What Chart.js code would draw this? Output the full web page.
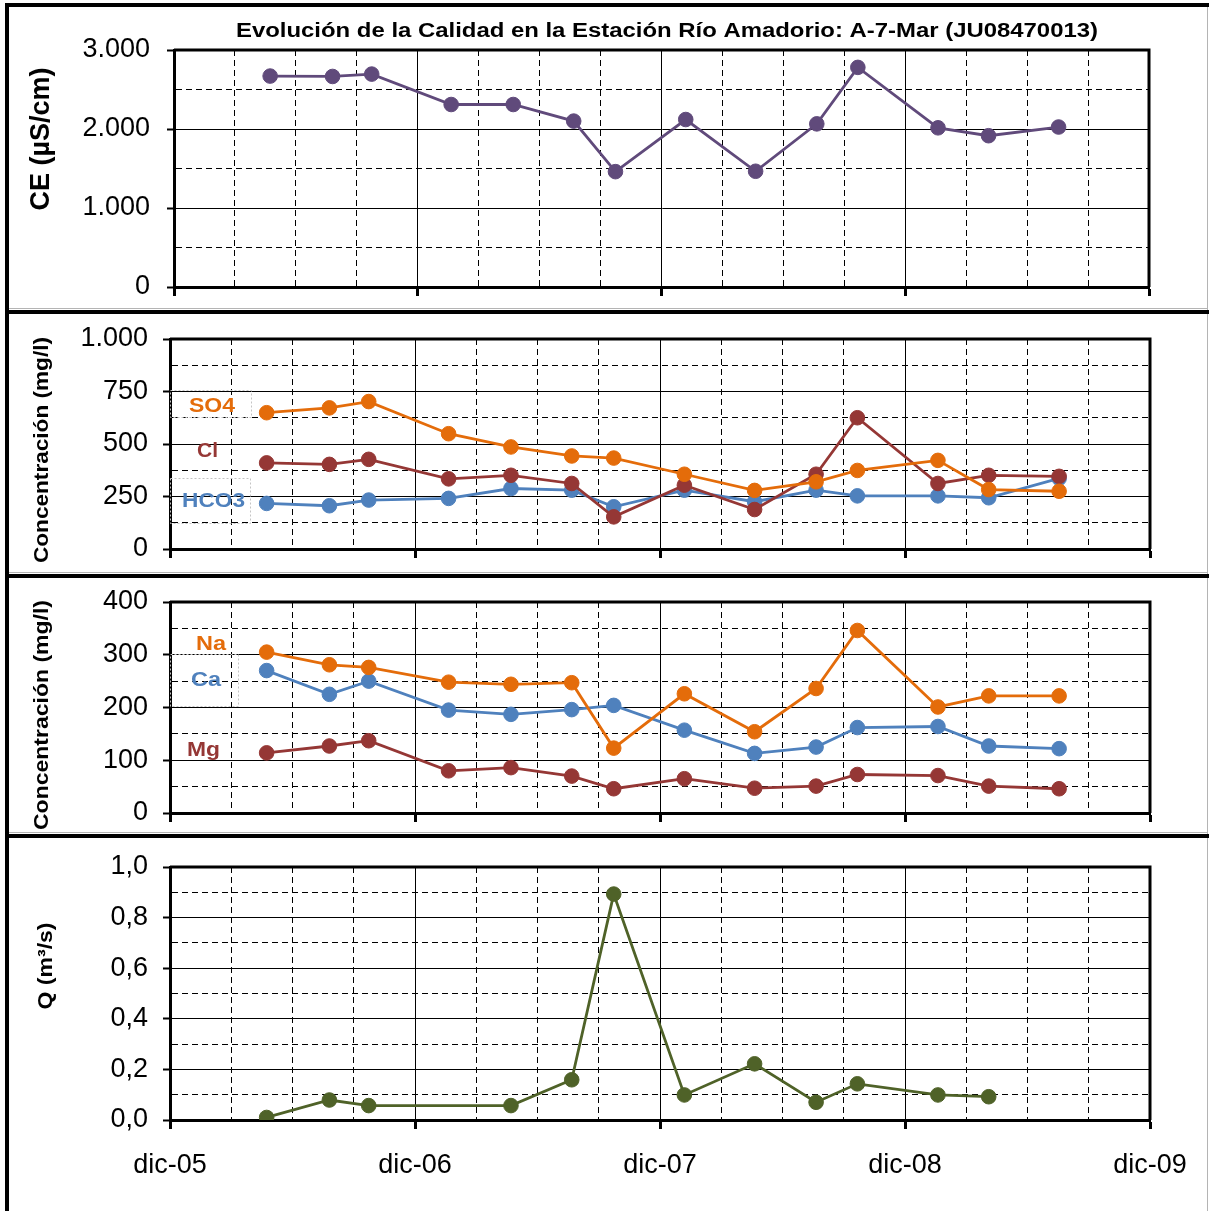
<!DOCTYPE html>
<html>
<head>
<meta charset="utf-8">
<script src="https://cdn.jsdelivr.net/npm/chart.js@4.4.1/dist/chart.umd.min.js"></script>
<style>
  body { margin: 0; background: #fff; }
  #page { position: relative; width: 1211px; height: 1211px; overflow: hidden; background: #fff; }
  #page canvas { position: absolute; left: 0; }
  .bar { position: absolute; background: #000; }
  .thin { position: absolute; background: #b4b4b4; }
</style>
</head>
<body>
<div id="page">
  <canvas id="ce" width="1211" height="311" style="top:0px"></canvas>
  <canvas id="anions" width="1211" height="264" style="top:311px"></canvas>
  <canvas id="cations" width="1211" height="260" style="top:575px"></canvas>
  <canvas id="flow" width="1211" height="376" style="top:835px"></canvas>

  <div class="thin" style="left:9px;top:308px;width:1199px;height:1px"></div>
  <div class="thin" style="left:9px;top:572px;width:1199px;height:1px"></div>
  <div class="thin" style="left:9px;top:832px;width:1199px;height:1px"></div>
  <div class="thin" style="left:1207px;top:3px;width:1px;height:1208px"></div>
  <div class="bar" style="left:5px;top:3px;width:4px;height:1208px"></div>
  <div class="bar" style="left:5px;top:3px;width:1204px;height:4px"></div>
  <div class="bar" style="left:5px;top:310px;width:1204px;height:4px"></div>
  <div class="bar" style="left:5px;top:574px;width:1204px;height:4px"></div>
  <div class="bar" style="left:5px;top:834px;width:1204px;height:4px"></div>
</div>
<script>
// fechas de muestreo (comunes a todos los paneles)
const sampleDates = ['2006-04-23', '2006-07-26', '2006-09-23', '2007-01-21', '2007-04-22', '2007-07-22', '2007-09-23',
  '2008-01-07', '2008-04-20', '2008-07-21', '2008-09-21', '2009-01-20', '2009-04-04', '2009-07-18'];

// CE (µS/cm)
const ceValues = [2670, 2665, 2695, 2310, 2310, 2100, 1460, 2120, 1465, 2065, 2780, 2015, 1915, 2025];

// aniones (mg/l)
const so4Values = [649, 672, 702, 549, 486, 443, 433, 356, 279, 320, 374, 422, 283, 275];
const clValues = [410, 403, 427, 334, 351, 312, 153, 304, 188, 356, 625, 312, 351, 346];
const hco3Values = [217, 206, 233, 241, 288, 280, 201, 280, 225, 280, 253, 253, 244, 336];

// cationes (mg/l)
const naValues = [305, 281, 276, 248, 244, 247, 123, 226, 154, 236, 346, 201, 222, 222];
const caValues = [270, 225, 250, 195, 187, 196, 204, 157, 113, 125, 162, 164, 127, 122];
const mgValues = [114, 127, 137, 80, 86, 70, 46, 65, 47, 51, 73, 71, 51, 46];

// caudal (m3/s), sin dato en ene-07 y jul-09
const qValues = [0.010, 0.079, 0.057, null, 0.057, 0.159, 0.893, 0.099, 0.222, 0.070, 0.143, 0.099, 0.092, null];

// etiquetas de los ejes
const yearLabels = ['dic-05', 'dic-06', 'dic-07', 'dic-08', 'dic-09'];
const ceTicks = ['0', '1.000', '2.000', '3.000'];
const anionTicks = ['0', '250', '500', '750', '1.000'];
const cationTicks = ['0', '100', '200', '300', '400'];
const qTicks = ['0,0', '0,2', '0,4', '0,6', '0,8', '1,0'];

const FONT = '"Liberation Sans", Arial, sans-serif';
const PURPLE = '#604a7b', ORANGE = '#e46c0a', RED = '#953735', BLUE = '#4f81bd', GREEN = '#4f6228';

// meses desde dic-05
function monthsFromStart(s) {
  const [y, m, d] = s.split('-').map(Number);
  const dim = new Date(y, m, 0).getDate();
  return (y - 2005) * 12 + (m - 12) + (d - 1) / dim;
}

function series(label, values, color) {
  return {
    label: label,
    data: sampleDates.map((d, i) => ({ x: monthsFromStart(d), y: values[i] })),
    borderColor: color,
    backgroundColor: color,
    pointBackgroundColor: color,
    pointBorderColor: color,
    pointBorderWidth: 1,
    borderWidth: 2.8,
    pointRadius: 7.3,
    pointHoverRadius: 7.3,
    spanGaps: true,
    tension: 0
  };
}

// texto ajustado a un ancho dado (el original está algo estirado)
function fitText(ctx, text, x, y, font, color, width, rotate) {
  ctx.save();
  ctx.font = font;
  ctx.fillStyle = color;
  ctx.textAlign = 'center';
  ctx.textBaseline = 'middle';
  ctx.translate(x, y);
  if (rotate) ctx.rotate(-Math.PI / 2);
  const w = ctx.measureText(text).width;
  ctx.scale(width / w, 1);
  ctx.fillText(text, 0, 0);
  ctx.restore();
}

function overlay(p) {
  return {
    id: 'overlay',
    afterDraw(chart) {
      const ctx = chart.ctx, a = chart.chartArea;
      // marco superior y derecho del área de trazado
      ctx.save();
      ctx.strokeStyle = '#000';
      ctx.lineWidth = 3;
      ctx.beginPath();
      ctx.moveTo(a.left, a.top);
      ctx.lineTo(a.right, a.top);
      ctx.lineTo(a.right, a.bottom);
      ctx.stroke();
      // cajas de texto de las etiquetas
      ctx.strokeStyle = '#c4c4c4';
      ctx.lineWidth = 1;
      ctx.setLineDash([2, 2]);
      (p.boxes || []).forEach(b => ctx.strokeRect(b[0] + 0.5, b[1] - p.top + 0.5, b[2], b[3]));
      ctx.restore();
      (p.texts || []).forEach(t => fitText(ctx, t.text, t.x, t.y - p.top, t.font, t.color || '#000', t.w, t.rot));
    }
  };
}

function makeChart(id, p) {
  return new Chart(document.getElementById(id), {
    type: 'line',
    data: { datasets: p.datasets },
    options: {
      responsive: false,
      animation: false,
      devicePixelRatio: 1,
      layout: { autoPadding: false, padding: { top: p.padTop, right: p.padRight, left: 0, bottom: 0 } },
      plugins: { legend: { display: false }, tooltip: { enabled: false } },
      scales: {
        x: {
          type: 'linear',
          min: 0,
          max: 48,
          afterFit: s => { s.height = p.xHeight; s.paddingLeft = 0; s.paddingRight = 0; },
          ticks: {
            display: p.showX,
            stepSize: 3,
            autoSkip: false,
            maxRotation: 0,
            maxTicksLimit: 100,
            padding: 20,
            color: '#000',
            font: { family: FONT, size: 27 },
            callback: (v, i) => (i % 4 === 0 ? yearLabels[i / 4] : '')
          },
          grid: {
            color: '#000',
            lineWidth: 1,
            tickLength: 9,
            tickWidth: 3,
            tickColor: c => (c.index % 4 === 0 ? '#000' : 'rgba(0,0,0,0)')
          },
          border: { color: '#000', width: 3, dash: c => (c.index % 4 ? [6, 4] : []) }
        },
        y: {
          min: 0,
          max: p.yMax,
          afterFit: s => { s.width = p.yWidth; s.paddingTop = 0; s.paddingBottom = 0; },
          ticks: {
            stepSize: p.yStep,
            autoSkip: false,
            maxTicksLimit: 100,
            padding: p.yPad,
            color: '#000',
            font: { family: FONT, size: 27 },
            callback: (v, i) => (i % 2 === 0 ? p.yTicks[i / 2] : '')
          },
          grid: {
            color: '#000',
            lineWidth: 1,
            tickLength: 7,
            tickWidth: 2,
            tickColor: c => (c.index % 2 === 0 ? '#000' : 'rgba(0,0,0,0)')
          },
          border: { color: '#000', width: 3, dash: c => (c.index % 2 ? [6, 4] : []) }
        }
      }
    },
    plugins: [overlay(p)]
  });
}

const titleFont = 'bold 20px ' + FONT;
const labelFont = 'bold 20px ' + FONT;

makeChart('ce', {
  top: 0, padTop: 50, padRight: 62, yWidth: 174, xHeight: 24, yPad: 17, showX: false,
  yMax: 3000, yStep: 500, yTicks: ceTicks,
  datasets: [series('CE', ceValues, PURPLE)],
  texts: [
    { text: 'Evolución de la Calidad en la Estación Río Amadorio: A-7-Mar (JU08470013)', x: 667, y: 31, font: titleFont, w: 862 },
    { text: 'CE (µS/cm)', x: 42, y: 139, font: 'bold 27px ' + FONT, w: 143, rot: true }
  ]
});

makeChart('anions', {
  top: 311, padTop: 28, padRight: 61, yWidth: 170, xHeight: 26, yPad: 15, showX: false,
  yMax: 1000, yStep: 125, yTicks: anionTicks,
  datasets: [series('SO4', so4Values, ORANGE), series('Cl', clValues, RED), series('HCO3', hco3Values, BLUE)],
  boxes: [[170, 390, 81, 27], [170, 478, 80, 45]],
  texts: [
    { text: 'Concentración (mg/l)', x: 42, y: 450, font: 'bold 21px ' + FONT, w: 226, rot: true },
    { text: 'SO4', x: 212, y: 406.5, font: labelFont, color: ORANGE, w: 46 },
    { text: 'Cl', x: 207.5, y: 451.5, font: labelFont, color: RED, w: 21 },
    { text: 'HCO3', x: 213.5, y: 501, font: labelFont, color: BLUE, w: 63 }
  ]
});

makeChart('cations', {
  top: 575, padTop: 27, padRight: 61, yWidth: 170, xHeight: 22, yPad: 15, showX: false,
  yMax: 400, yStep: 50, yTicks: cationTicks,
  datasets: [series('Na', naValues, ORANGE), series('Ca', caValues, BLUE), series('Mg', mgValues, RED)],
  boxes: [[170, 654, 68, 52]],
  texts: [
    { text: 'Concentración (mg/l)', x: 42, y: 715, font: 'bold 21px ' + FONT, w: 230, rot: true },
    { text: 'Na', x: 211, y: 644.5, font: labelFont, color: ORANGE, w: 30 },
    { text: 'Ca', x: 206, y: 680.5, font: labelFont, color: BLUE, w: 30 },
    { text: 'Mg', x: 203.5, y: 750, font: labelFont, color: RED, w: 33 }
  ]
});

makeChart('flow', {
  top: 835, padTop: 32, padRight: 61, yWidth: 170, xHeight: 91, yPad: 15, showX: true,
  yMax: 1, yStep: 0.1, yTicks: qTicks,
  datasets: [series('Q', qValues, GREEN)],
  texts: [
    { text: 'Q (m³/s)', x: 46, y: 966, font: 'bold 20px ' + FONT, w: 87, rot: true }
  ]
});
</script>
</body>
</html>
